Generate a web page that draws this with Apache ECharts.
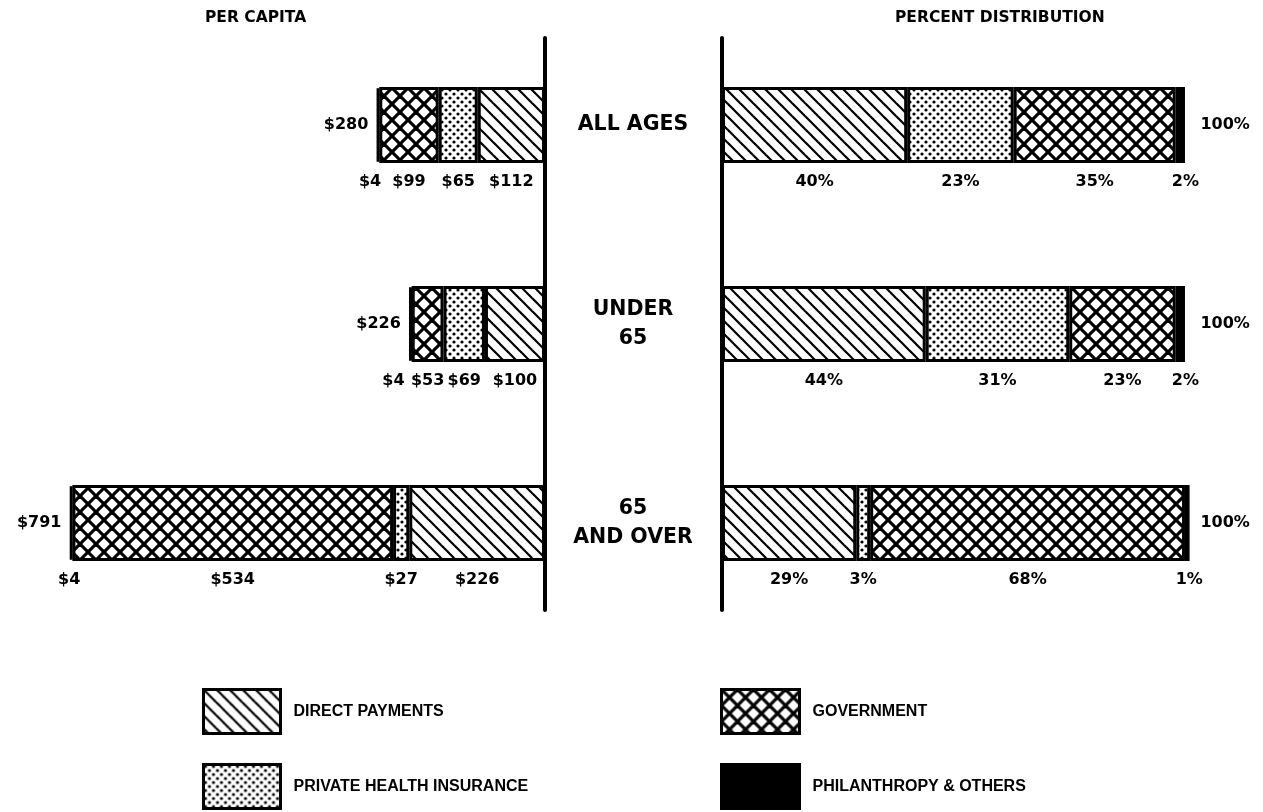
<!DOCTYPE html>
<html><head><meta charset="utf-8">
<script src="https://cdn.jsdelivr.net/npm/echarts@6/dist/echarts.min.js"></script>
<style>html,body{margin:0;padding:0;background:#fff}#c{width:1263px;height:812px}</style>
</head><body><div id="c"></div>
<script>
// ---- data ----
const categories = ['ALL AGES', 'UNDER\n65', '65\nAND OVER'];
const seriesNames = ['DIRECT PAYMENTS', 'PRIVATE HEALTH INSURANCE', 'GOVERNMENT', 'PHILANTHROPY & OTHERS'];
const perCapitaDirect = [112, 100, 226];
const perCapitaPrivate = [65, 69, 27];
const perCapitaGovernment = [99, 53, 534];
const perCapitaPhilanthropy = [4, 4, 4];
const perCapitaTotal = [280, 226, 791];
const percentDirect = [40, 44, 29];
const percentPrivate = [23, 31, 3];
const percentGovernment = [35, 23, 68];
const percentPhilanthropy = [2, 2, 1];
const percentTotal = [100, 100, 100];

// ---- label nudges (style only) ----
const philLabelOffsetLeft = [[-8, 0], [-17, 0], [-2, 0]];
const philLabelOffsetRight = [[5, 0], [5, 0], [2, 0]];

// ---- patterns ----
function makeCanvas(s, draw) {
  const c = document.createElement('canvas'); c.width = s; c.height = s;
  const ctx = c.getContext('2d'); ctx.fillStyle = '#fff'; ctx.fillRect(0, 0, s, s);
  draw(ctx, s); return c;
}
const diagCanvas = makeCanvas(13, (ctx, s) => {
  ctx.strokeStyle = '#000'; ctx.lineWidth = 2.2;
  for (const o of [-s, 0, s]) { ctx.beginPath(); ctx.moveTo(o - 3, -3); ctx.lineTo(o + s + 3, s + 3); ctx.stroke(); }
});
const dotCanvas = makeCanvas(8, (ctx, s) => {
  ctx.fillStyle = '#000';
  for (const [x, y] of [[2, 2], [6, 6]]) { ctx.beginPath(); ctx.arc(x, y, 1.6, 0, Math.PI * 2); ctx.fill(); }
});
const crossCanvas = makeCanvas(16, (ctx, s) => {
  ctx.strokeStyle = '#000'; ctx.lineWidth = 3.2;
  for (const o of [-s, 0, s]) {
    ctx.beginPath(); ctx.moveTo(o - 3, -3); ctx.lineTo(o + s + 3, s + 3); ctx.stroke();
    ctx.beginPath(); ctx.moveTo(o - 3, s + 3); ctx.lineTo(o + s + 3, -3); ctx.stroke();
  }
});
const fills = [
  { image: diagCanvas, repeat: 'repeat' },
  { image: dotCanvas, repeat: 'repeat' },
  { image: crossCanvas, repeat: 'repeat' },
  '#000'
];

const FONT = 'DejaVu Sans';
const labelStyle = { fontFamily: FONT, fontWeight: 'bold', fontSize: 16, color: '#000' };

const chart = echarts.init(document.getElementById('c'), null, { renderer: 'canvas' });

function barSeries(name, idx, values, gridIdx, fmt, offsets) {
  return {
    type: 'bar', name: name, stack: 'g' + gridIdx,
    xAxisIndex: gridIdx, yAxisIndex: gridIdx,
    data: values.map((v, i) => offsets ? { value: v, label: { offset: offsets[i] } } : v),
    barWidth: 76, clip: false,
    itemStyle: { color: fills[idx], borderColor: '#000', borderWidth: 3 },
    emphasis: { disabled: true },
    label: Object.assign({ show: true, position: 'bottom', distance: 11, formatter: fmt }, labelStyle)
  };
}
const dollar = p => '$' + p.value;
const pct = p => p.value + '%';

const titleText = { fontFamily: FONT, fontWeight: 'bold', fontSize: 15.5, color: '#000' };
const legendText = { fontFamily: 'Liberation Sans', fontWeight: 'bold', fontSize: 16, color: '#000' };

const option = {
  animation: false,
  backgroundColor: '#fff',
  title: [
    { text: 'PER CAPITA', left: 205, top: 10, padding: 0, textStyle: titleText },
    { text: 'PERCENT DISTRIBUTION', left: 895, top: 10, padding: 0, textStyle: titleText }
  ],
  grid: [
    { left: 64.6, right: 718, top: 25.5, height: 597 },
    { left: 722, right: 73.4, top: 25.5, height: 597 },
    { left: 545, width: 1, top: 38, height: 572 },
    { left: 722, width: 1, top: 38, height: 572 }
  ],
  xAxis: [
    { gridIndex: 0, type: 'value', min: 0, max: 800, inverse: true, show: false },
    { gridIndex: 1, type: 'value', min: 0, max: 101, show: false },
    { gridIndex: 2, type: 'value', show: false },
    { gridIndex: 3, type: 'value', show: false }
  ],
  yAxis: [
    { gridIndex: 0, type: 'category', data: categories, inverse: true, position: 'right',
      axisLine: { show: false }, axisTick: { show: false },
      axisLabel: { margin: 88, align: 'center', fontFamily: FONT, fontWeight: 'bold', fontSize: 20.5, lineHeight: 29, color: '#000' } },
    { gridIndex: 1, type: 'category', data: categories, inverse: true, show: false },
    { gridIndex: 2, type: 'category', data: [''], axisLine: { show: true, lineStyle: { color: '#000', width: 4 } }, axisTick: { show: false }, axisLabel: { show: false } },
    { gridIndex: 3, type: 'category', data: [''], axisLine: { show: true, lineStyle: { color: '#000', width: 4 } }, axisTick: { show: false }, axisLabel: { show: false } }
  ],
  legend: [
    { left: 202, top: 688, orient: 'vertical', padding: 0, itemGap: 28, itemWidth: 77, itemHeight: 44, itemTextGap: 14,
      icon: 'rect', selectedMode: false, data: [seriesNames[0], seriesNames[1]],
      itemStyle: { borderColor: '#000', borderWidth: 3 }, textStyle: Object.assign({ padding: [0, 0, 0, 8] }, legendText) },
    { left: 720, top: 688, orient: 'vertical', padding: 0, itemGap: 28, itemWidth: 78, itemHeight: 44, itemTextGap: 14,
      icon: 'rect', selectedMode: false, data: [seriesNames[2], seriesNames[3]],
      itemStyle: { borderColor: '#000', borderWidth: 3 }, textStyle: Object.assign({ padding: [0, 0, 0, 8] }, legendText) }
  ],
  series: [
    barSeries(seriesNames[0], 0, perCapitaDirect, 0, dollar),
    barSeries(seriesNames[1], 1, perCapitaPrivate, 0, dollar),
    barSeries(seriesNames[2], 2, perCapitaGovernment, 0, dollar),
    barSeries(seriesNames[3], 3, perCapitaPhilanthropy, 0, dollar, philLabelOffsetLeft),
    barSeries(seriesNames[0], 0, percentDirect, 1, pct),
    barSeries(seriesNames[1], 1, percentPrivate, 1, pct),
    barSeries(seriesNames[2], 2, percentGovernment, 1, pct),
    barSeries(seriesNames[3], 3, percentPhilanthropy, 1, pct, philLabelOffsetRight),
    { type: 'scatter', xAxisIndex: 0, yAxisIndex: 0, symbolSize: 1, silent: true,
      itemStyle: { color: 'rgba(0,0,0,0)', opacity: 1 },
      data: perCapitaTotal.map((v, i) => [v, categories[i]]),
      label: Object.assign({ show: true, position: 'left', distance: 8, formatter: p => '$' + p.value[0] }, labelStyle) },
    { type: 'scatter', xAxisIndex: 1, yAxisIndex: 1, symbolSize: 1, silent: true,
      itemStyle: { color: 'rgba(0,0,0,0)', opacity: 1 },
      data: percentTotal.map((v, i) => [v, categories[i]]),
      label: Object.assign({ show: true, position: 'right', distance: 15, formatter: p => p.value[0] + '%' }, labelStyle) }
  ]
};
chart.setOption(option);
</script></body></html>
